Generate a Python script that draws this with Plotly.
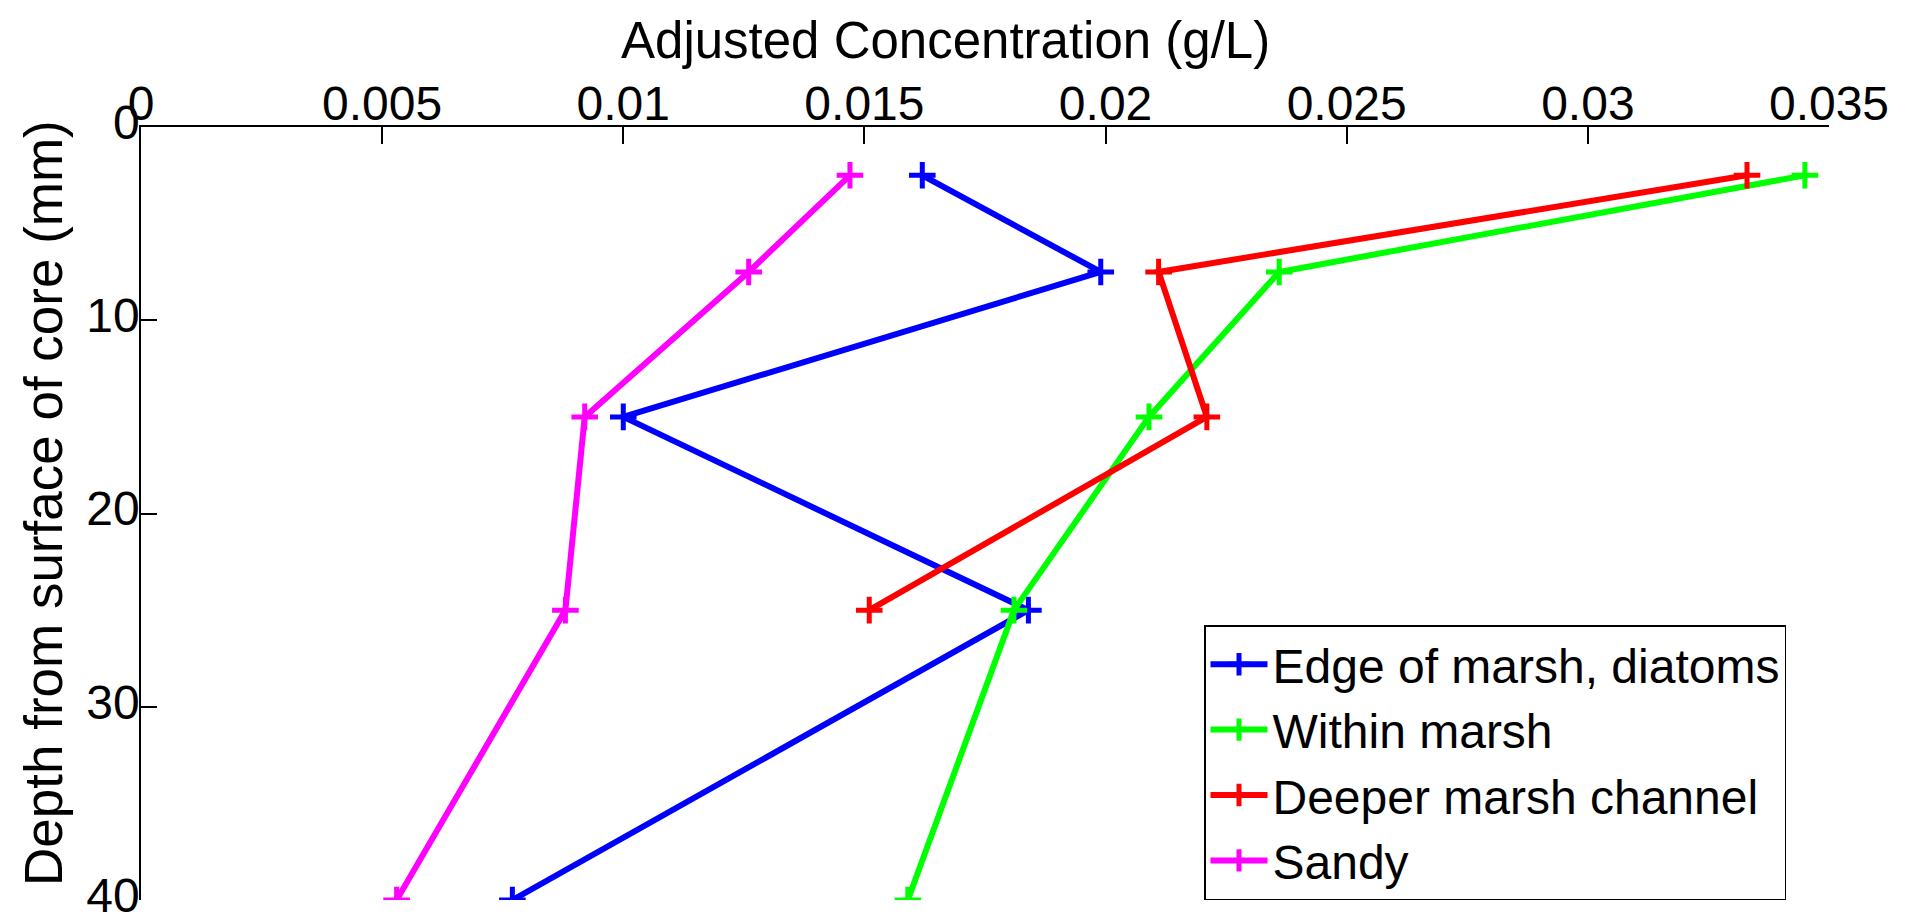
import plotly.graph_objects as go

depth = [2.5, 7.5, 15, 25, 40]
depth_red = [2.5, 7.5, 15, 25]

edge = [0.0162, 0.0199, 0.0100, 0.0184, 0.0077]
within = [0.0345, 0.0236, 0.0209, 0.0181, 0.0159]
deeper = [0.0333, 0.0211, 0.0221, 0.0151]
sandy = [0.0147, 0.0126, 0.0092, 0.0088, 0.0053]

names = ["Edge of marsh, diatoms", "Within marsh", "Deeper marsh channel", "Sandy"]
colors = ["#0000FF", "#00FF00", "#FF0000", "#FF00FF"]
series = [(edge, depth), (within, depth), (deeper, depth_red), (sandy, depth)]

x_ticks = [0, 0.005, 0.01, 0.015, 0.02, 0.025, 0.03, 0.035]
x_labels = ["0", "0.005", "0.01", "0.015", "0.02", "0.025", "0.03", "0.035"]
y_ticks = [0, 10, 20, 30, 40]

FONT = "Liberation Sans, Arial, Helvetica, sans-serif"

fig = go.Figure()
for (xs, ys), name, c in zip(series, names, colors):
    fig.add_trace(go.Scatter(
        x=xs, y=ys, name=name, mode="lines+markers",
        line=dict(color=c, width=6),
        marker=dict(symbol="cross-thin", size=19, color=c,
                    line=dict(color=c, width=5)),
    ))

# page body has an 8px margin; layout coordinates are screen coords minus 8
OFF = 8
W, H = 1914 - OFF, 919 - OFF
L, R, T, B = 141 - OFF, 1829 - OFF, 127 - OFF, 900 - OFF

def px(xs):
    return (xs - OFF - L) / (R - L)

def py(ys):
    return (B - (ys - OFF)) / (B - T)

fig.update_layout(
    width=W, height=H,
    margin=dict(l=L, r=W - R, t=T, b=H - B, pad=0, autoexpand=False),
    paper_bgcolor="white", plot_bgcolor="white",
    font=dict(family=FONT, size=48, color="black"),
    showlegend=True,
    legend=dict(
        x=px(1204), y=py(625),
        xanchor="left", yanchor="top",
        bordercolor="black", borderwidth=1.5, bgcolor="white",
        font=dict(family=FONT, size=48, color="black"),
        tracegroupgap=0, itemwidth=57,
    ),
    xaxis=dict(
        side="top", range=[0, 0.035], tickvals=x_ticks, ticktext=x_labels,
        showgrid=False, zeroline=False, showline=True, linecolor="black",
        linewidth=1.5, ticks="inside", ticklen=17, tickwidth=1.5,
        tickcolor="black", tickfont=dict(size=48, family=FONT),
        ticklabelstandoff=-14, ticklabeloverflow="allow", automargin=False,
    ),
    yaxis=dict(
        range=[40, 0], tickvals=y_ticks,
        showgrid=False, zeroline=False, showline=True, linecolor="black",
        linewidth=1.5, ticks="inside", ticklen=16, tickwidth=1.5,
        tickcolor="black", tickfont=dict(size=48, family=FONT),
        ticklabelstandoff=-10, ticklabelshift=5,
        ticklabeloverflow="allow", automargin=False,
    ),
    annotations=[
        dict(text="Adjusted Concentration (g/L)", xref="paper", yref="paper",
             x=px(945), y=py(40),
             xanchor="center", yanchor="middle", showarrow=False,
             font=dict(size=51, family=FONT, color="black")),
        dict(text="Depth from surface of core (mm)", xref="paper", yref="paper",
             x=px(43), y=py(503), textangle=-90,
             xanchor="center", yanchor="middle", showarrow=False,
             font=dict(size=53, family=FONT, color="black")),
    ],
)

fig.write_html("out.html")
